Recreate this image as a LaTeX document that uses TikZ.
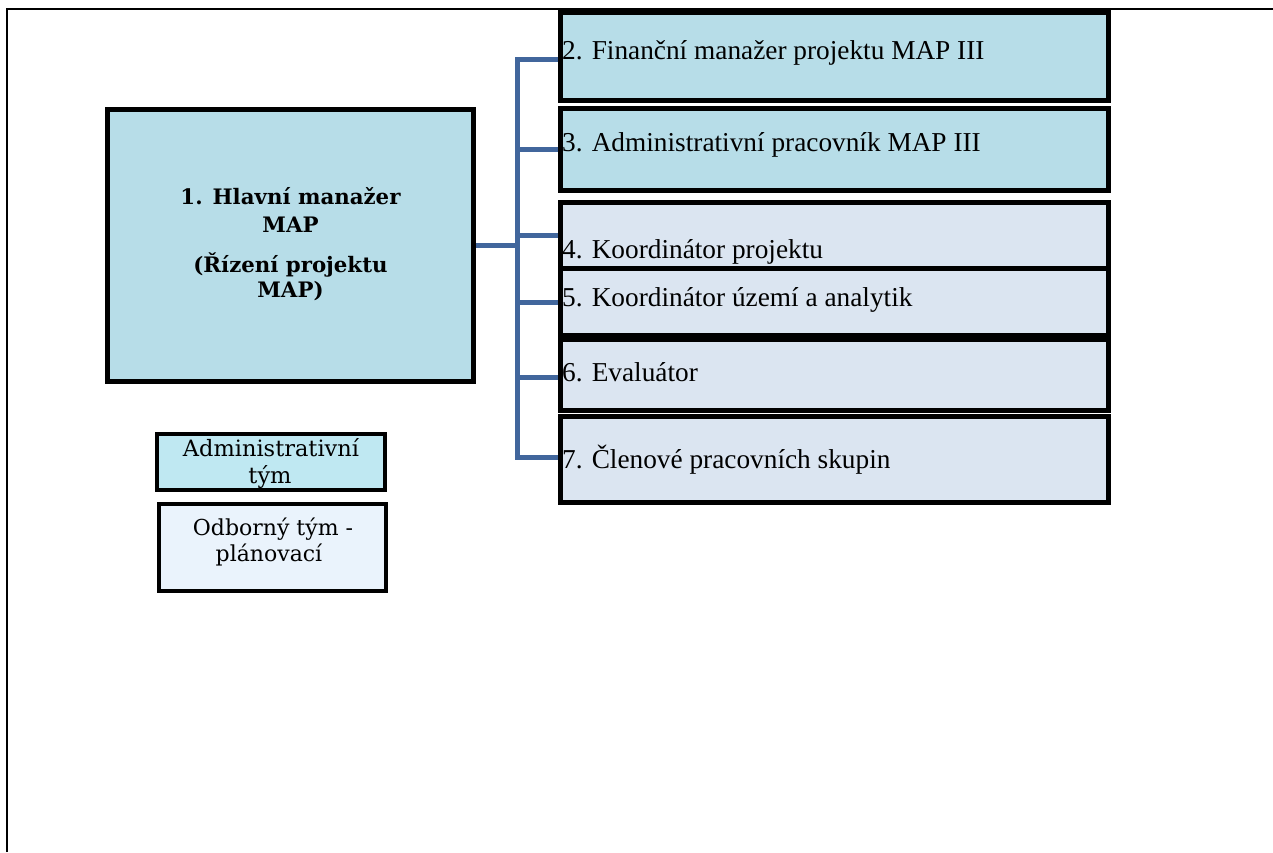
\documentclass[tikz,border=0pt]{standalone}
\usepackage{fontspec}
\setmainfont{Liberation Serif}
\newfontfamily\rboxfont{Liberation Serif}
\newfontfamily\mainboldfont{DejaVu Serif}
\newfontfamily\legfont{DejaVu Serif}
\definecolor{darkfill}{HTML}{B7DDE8}
\definecolor{lightfill}{HTML}{DBE5F1}
\definecolor{legA}{HTML}{BFE8F2}
\definecolor{legB}{HTML}{EAF3FC}
\definecolor{connblue}{HTML}{41669C}
\tikzset{
  box/.style={draw=black, line width=5pt, inner sep=0pt, rectangle},
  rbox/.style={box, minimum width=548pt},
  conn/.style={draw=connblue, line width=5pt},
  rtext/.style={anchor=base west, inner sep=0pt, font=\rboxfont\fontsize{27.3}{32}\selectfont},
  mtext/.style={anchor=base, inner sep=0pt, font=\mainboldfont\bfseries\fontsize{21.3}{26}\selectfont},
  ltext/.style={anchor=base, inner sep=0pt, font=\legfont\fontsize{22.5}{26}\selectfont},
  ltextb/.style={anchor=base, inner sep=0pt, font=\legfont\fontsize{22}{26}\selectfont},
}
\begin{document}
\begin{tikzpicture}[x=1pt,y=-1pt]
\useasboundingbox (0,0) rectangle (1273,852);
\fill[white] (0,0) rectangle (1273,852);
% frame
\draw[line width=2pt] (7,852) -- (7,9) -- (1273,9);
% main box
\node[box, fill=darkfill, minimum width=366pt, minimum height=272pt] (main) at (290.5,245.5) {};
% right boxes
\node[rbox, fill=darkfill, minimum height=88pt] (b2) at (834.5,56.5) {};
\node[rbox, fill=darkfill, minimum height=82pt] (b3) at (834.5,149.5) {};
\node[rbox, fill=lightfill, minimum height=66pt] (b4) at (834.5,235.5) {};
\node[rbox, fill=lightfill, minimum height=67pt] (b5) at (834.5,302) {};
\node[rbox, fill=lightfill, minimum height=71pt] (b6) at (834.5,375) {};
\node[rbox, fill=lightfill, minimum height=86pt] (b7) at (834.5,459.5) {};
% legend boxes
\node[box, line width=4pt, fill=legA, minimum width=228pt, minimum height=56pt] (leg1) at (271,462) {};
\node[box, line width=4pt, fill=legB, minimum width=227pt, minimum height=87pt] (leg2) at (272.5,547.5) {};
% connectors
\coordinate (tr) at (517,245.5);
\draw[conn] (main.east) -- (main.east -| tr);
\draw[conn] ([yshift=-2.5pt]b2.west) -| (tr) |- ([yshift=2pt]b7.west);
\draw[conn] (b3.west) -- (b3.west -| tr);
\draw[conn] (b4.west) -- (b4.west -| tr);
\draw[conn] (b5.west) -- (b5.west -| tr);
\draw[conn] ([yshift=-2.5pt]b6.west) -- ([yshift=-2.5pt]b6.west -| tr);
% texts right boxes
\node[rtext] (t2) at (562,59.5) {2. Finanční manažer projektu MAP III};
\node[rtext] (t3) at (562,151.5) {3. Administrativní pracovník MAP III};
\node[rtext] (t4) at (562,258) {4. Koordinátor projektu};
\node[rtext] (t5) at (562,306) {5. Koordinátor území a analytik};
\node[rtext] (t6) at (562,381.5) {6. Evaluátor};
\node[rtext] (t7) at (562,468.5) {7. Členové pracovních skupin};
% main text
\node[mtext] (m1) at (290.5,204) {1. Hlavní manažer};
\node[mtext] (m2) at (290.5,232) {MAP};
\node[mtext] (m3) at (290.5,272) {(Řízení projektu};
\node[mtext] (m4) at (290.5,297) {MAP)};
% legend text
\node[ltext] (l1) at (271,456) {Administrativní};
\node[ltext] (l2) at (270,483) {tým};
\node[ltextb] (l3) at (273,535) {Odborný tým -};
\node[ltextb] (l4) at (269,561) {plánovací};
\end{tikzpicture}
\end{document}
